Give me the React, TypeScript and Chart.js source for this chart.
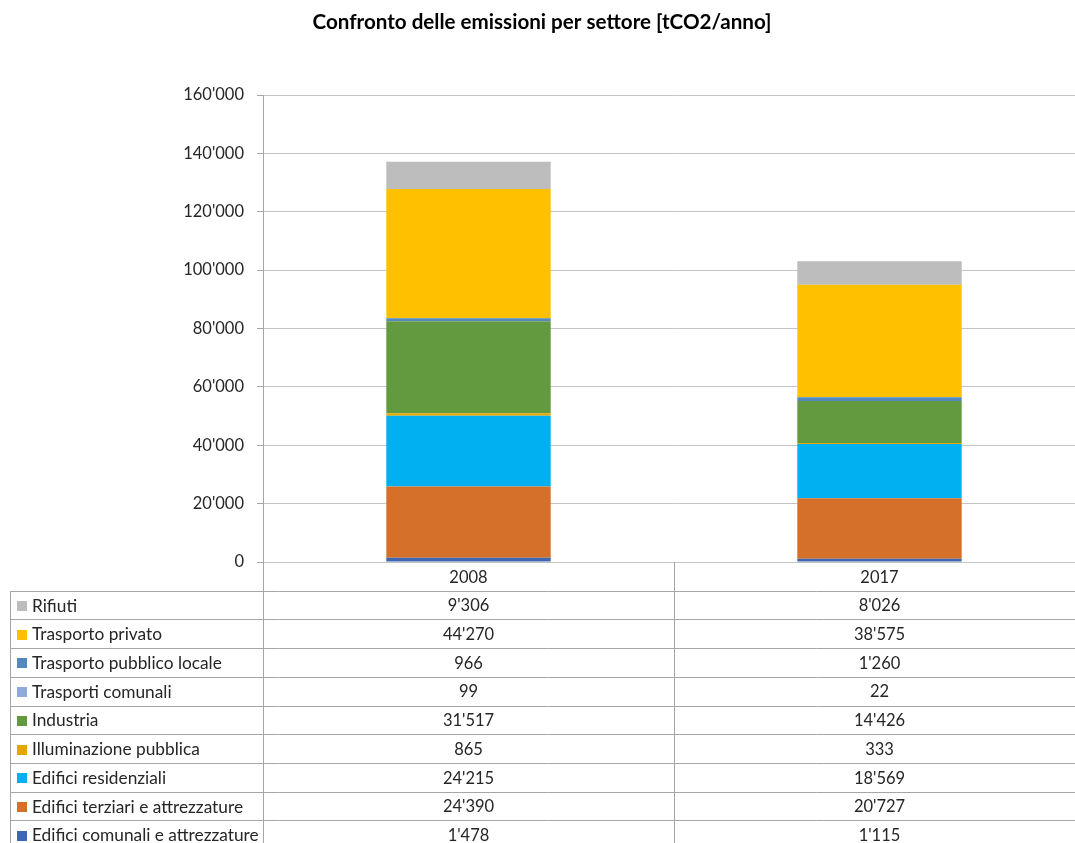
import React, { useEffect, useRef } from "react";
import { Chart, registerables } from "chart.js";

Chart.register(...registerables);

const title = "Confronto delle emissioni per settore [tCO2/anno]";
const years = ["2008", "2017"];
const seriesNames = [
  "Edifici comunali e attrezzature",
  "Edifici terziari e attrezzature",
  "Edifici residenziali",
  "Illuminazione pubblica",
  "Industria",
  "Trasporti comunali",
  "Trasporto pubblico locale",
  "Trasporto privato",
  "Rifiuti",
];
const edificiComunali = [1478, 1115];
const edificiTerziari = [24390, 20727];
const edificiResidenziali = [24215, 18569];
const illuminazionePubblica = [865, 333];
const industria = [31517, 14426];
const trasportiComunali = [99, 22];
const trasportoPubblico = [966, 1260];
const trasportoPrivato = [44270, 38575];
const rifiuti = [9306, 8026];
const seriesValues = [
  edificiComunali,
  edificiTerziari,
  edificiResidenziali,
  illuminazionePubblica,
  industria,
  trasportiComunali,
  trasportoPubblico,
  trasportoPrivato,
  rifiuti,
];
const seriesColors = [
  "#3F66B0",
  "#D5702B",
  "#00B0F0",
  "#E2A800",
  "#639A3F",
  "#8EA9DB",
  "#5489C0",
  "#FFC000",
  "#BDBDBD",
];
const yMin = 0;
const yMax = 160000;
const yStep = 20000;

const FONT = "Lato, 'Open Sans', sans-serif";
const W = 1075;
const H = 843;
const CANVAS_W = 1095;

function fmt(n: number): string {
  const s = Math.round(n).toString();
  return s.replace(/\B(?=(\d{3})+(?!\d))/g, "'");
}

const tablePlugin = {
  id: "tablePlugin",
  afterDraw(chart: any) {
    const ctx = chart.ctx as CanvasRenderingContext2D;
    const area = chart.chartArea;
    const xs = chart.scales.x;
    const tableLeft = 10;
    const axisX = Math.round(area.left) + 0.5;
    const right = area.right;
    const top = area.bottom;
    const rowH = 28.7;
    const n = seriesNames.length;
    const bottom = top + (n + 1) * rowH;
    ctx.save();

    // title
    ctx.font = `bold 20.6px ${FONT}`;
    ctx.fillStyle = "#000";
    ctx.textAlign = "center";
    ctx.textBaseline = "middle";
    ctx.fillText(title, 542, 22);

    // horizontal lines
    ctx.strokeStyle = "#a6a6a6";
    ctx.lineWidth = 1;
    for (let i = 1; i <= n + 1; i++) {
      const y = Math.round(top + i * rowH) + 0.5;
      ctx.beginPath();
      ctx.moveTo(tableLeft, y);
      ctx.lineTo(right, y);
      ctx.stroke();
    }
    // vertical lines
    ctx.beginPath();
    ctx.moveTo(axisX, area.top);
    ctx.lineTo(axisX, bottom);
    ctx.stroke();
    ctx.beginPath();
    ctx.moveTo(tableLeft + 0.5, Math.round(top + rowH) + 0.5);
    ctx.lineTo(tableLeft + 0.5, bottom);
    ctx.stroke();
    for (let c = 0; c < years.length; c++) {
      const bx = Math.round(xs.getPixelForValue(c + 0.5)) + 0.5;
      ctx.beginPath();
      ctx.moveTo(bx, top);
      ctx.lineTo(bx, bottom);
      ctx.stroke();
    }

    // header
    ctx.font = `16.5px ${FONT}`;
    ctx.fillStyle = "#262626";
    ctx.textAlign = "center";
    for (let c = 0; c < years.length; c++) {
      ctx.fillText(years[c], xs.getPixelForValue(c), top + rowH / 2 + 1);
    }
    // rows: top row is last series
    for (let r = 0; r < n; r++) {
      const si = n - 1 - r;
      const cy = top + (r + 1) * rowH + rowH / 2 + 1;
      ctx.fillStyle = seriesColors[si];
      ctx.fillRect(17, Math.round(cy - 5), 10, 10);
      ctx.fillStyle = "#262626";
      ctx.textAlign = "left";
      ctx.font = `17.3px ${FONT}`;
      ctx.fillText(seriesNames[si], 32, cy);
      ctx.textAlign = "center";
      ctx.font = `16.5px ${FONT}`;
      for (let c = 0; c < years.length; c++) {
        ctx.fillText(fmt(seriesValues[si][c]), xs.getPixelForValue(c), cy);
      }
    }
    ctx.restore();
  },
};

export default function App() {
  const ref = useRef<HTMLCanvasElement | null>(null);
  useEffect(() => {
    if (!ref.current) return;
    const chart = new Chart(ref.current, {
      type: "bar",
      data: {
        labels: years,
        datasets: seriesNames.map((name, i) => ({
          label: name,
          data: seriesValues[i],
          backgroundColor: seriesColors[i],
          borderWidth: 0,
          barPercentage: 0.4,
          categoryPercentage: 1.0,
        })),
      },
      options: {
        responsive: false,
        animation: false,
        devicePixelRatio: 1,
        layout: { padding: { top: 95, bottom: H - 562, right: CANVAS_W - 1085, left: 0 } },
        plugins: {
          legend: { display: false },
          title: { display: false },
          tooltip: { enabled: false },
        },
        scales: {
          x: {
            stacked: true,
            display: false,
          },
          y: {
            stacked: true,
            min: yMin,
            max: yMax,
            ticks: {
              stepSize: yStep,
              color: "#262626",
              font: { family: FONT, size: 16.5 },
              padding: 13,
              callback: (v: any) => fmt(Number(v)),
            },
            grid: {
              color: "#c4c4c4",
              tickColor: "#a6a6a6",
              tickLength: 6,
              drawTicks: true,
            },
            border: { display: true, color: "#a6a6a6" },
            afterFit: (scale: any) => {
              scale.width = 263;
            },
          },
        },
      },
      plugins: [tablePlugin],
    });
    return () => chart.destroy();
  }, []);
  return (
    <div
      style={{
        position: "absolute",
        left: 0,
        top: 0,
        width: W,
        height: H,
        overflow: "hidden",
        background: "#fff",
      }}
    >
      <canvas ref={ref} width={CANVAS_W} height={H} style={{ display: "block" }} />
    </div>
  );
}
